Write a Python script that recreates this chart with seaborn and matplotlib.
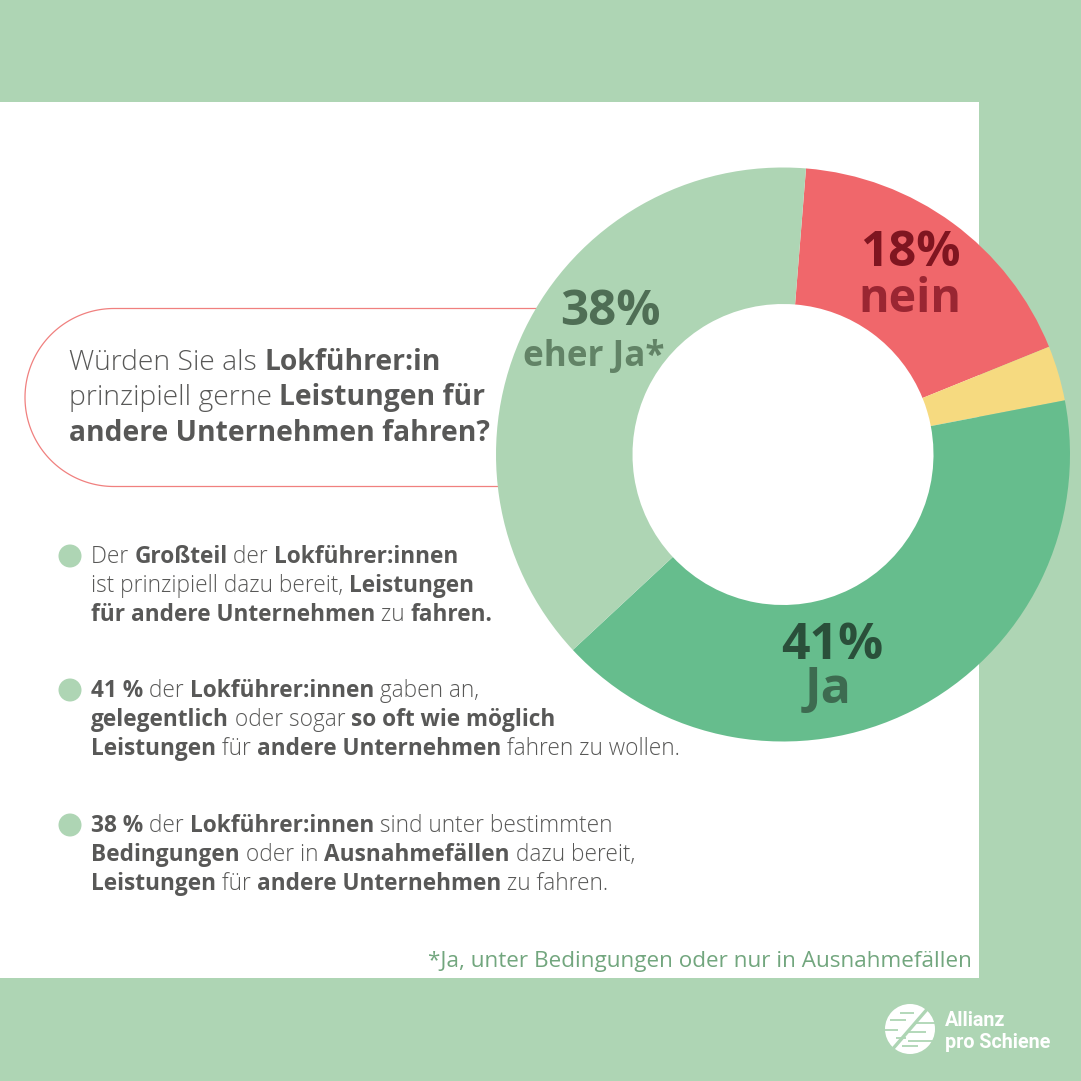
import numpy as np
import matplotlib
matplotlib.use("Agg")
import matplotlib.pyplot as plt
import seaborn as sns
from matplotlib.patches import Circle, Rectangle

# =========================
# Data
# =========================
categories = ["nein", "eher nein", "Ja", "eher Ja*"]
shares = [17.6, 3.1, 41.1, 38.2]

question_lines = [
    [("Würden Sie als ", False), ("Lokführer:in", True)],
    [("prinzipiell gerne ", False), ("Leistungen für", True)],
    [("andere Unternehmen fahren?", True)],
]
bullet_1 = [
    [("Der ", False), ("Großteil", True), (" der ", False), ("Lokführer:innen", True)],
    [("ist prinzipiell dazu bereit, ", False), ("Leistungen", True)],
    [("für andere Unternehmen", True), (" zu ", False), ("fahren.", True)],
]
bullet_2 = [
    [("41 %", True), (" der ", False), ("Lokführer:innen", True), (" gaben an,", False)],
    [("gelegentlich", True), (" oder sogar ", False), ("so oft wie möglich", True)],
    [("Leistungen", True), (" für ", False), ("andere Unternehmen", True), (" fahren zu wollen.", False)],
]
bullet_3 = [
    [("38 %", True), (" der ", False), ("Lokführer:innen", True), (" sind unter bestimmten", False)],
    [("Bedingungen", True), (" oder in ", False), ("Ausnahmefällen", True), (" dazu bereit,", False)],
    [("Leistungen", True), (" für ", False), ("andere Unternehmen", True), (" zu fahren.", False)],
]
footnote = "*Ja, unter Bedingungen oder nur in Ausnahmefällen"

# =========================
# Style
# =========================
sns.set_theme(style="white")
plt.rcParams["font.family"] = ["Open Sans", "DejaVu Sans"]

GREEN = "#AED5B4"
RED = "#F0676B"
TEXT = "#585857"
palette = sns.color_palette([RED, "#F6DA80", "#66BD8D", GREEN])

W = 1081
fig = plt.figure(figsize=(W / 100, W / 100), dpi=100, facecolor="white")

ax = fig.add_axes([0, 0, 1, 1], zorder=0)
ax.set_xlim(0, W)
ax.set_ylim(W, 0)
ax.axis("off")

top = fig.add_axes([0, 0, 1, 1], zorder=2)
top.set_xlim(0, W)
top.set_ylim(W, 0)
top.axis("off")

# =========================
# Background frame
# =========================
ax.add_patch(Rectangle((0, 0), W, 101.5, color=GREEN, lw=0))
ax.add_patch(Rectangle((979, 0), W - 979, W, color=GREEN, lw=0))
ax.add_patch(Rectangle((0, 978), W, W - 978, color=GREEN, lw=0))

# question pill (runs under the donut)
theta = np.linspace(np.pi / 2, 3 * np.pi / 2, 120)
pill_x = np.r_[560, 114 + 89 * np.cos(theta), 560]
pill_y = np.r_[308.5, 397.5 - 89 * np.sin(theta), 486.5]
ax.plot(pill_x, pill_y, color="#F0807F", lw=0.9)

# =========================
# Donut
# =========================
cx, cy, r_out, r_in = 783, 454.5, 287, 150.5
ax_pie = fig.add_axes([(cx - r_out) / W, 1 - (cy + r_out) / W, 2 * r_out / W, 2 * r_out / W], zorder=1)
ax_pie.patch.set_alpha(0)
ax_pie.pie(shares, colors=palette, startangle=85.4, counterclock=False, radius=1,
           wedgeprops=dict(width=(r_out - r_in) / r_out, linewidth=0))
ax_pie.set_xlim(-1, 1)
ax_pie.set_ylim(-1, 1)


# =========================
# Mixed weight text helper
# =========================
def advance(s, size, bold, rend):
    # width of the string between two markers, so spaces count
    weight = "bold" if bold else "light"
    t = top.text(0, 0, "|" + s.replace(" ", "\u00a0") + "|", fontsize=size, fontweight=weight)
    b = top.text(0, 0, "||", fontsize=size, fontweight=weight)
    w = t.get_window_extent(rend).width - b.get_window_extent(rend).width
    t.remove()
    b.remove()
    return w


def draw_line(x, y, segments, size):
    rend = fig.canvas.get_renderer()
    for s, bold in segments:
        top.text(x, y, s.replace(" ", "\u00a0"), fontsize=size, color=TEXT, va="baseline", ha="left",
                 fontweight="bold" if bold else "light")
        x += advance(s, size, bold, rend)


for i, line in enumerate(question_lines):
    draw_line(69, 370 + i * 35.5, line, 20.3)

for bullet, y0 in zip([bullet_1, bullet_2, bullet_3], [563, 697, 832]):
    top.add_patch(Circle((70, y0 - 7), 11.5, color=GREEN, lw=0))
    for i, line in enumerate(bullet):
        draw_line(91, y0 + i * 29, line, 16.3)

top.text(972, 967, footnote, ha="right", va="baseline", fontsize=16.2, color="#72A67E")


# =========================
# Donut labels
# =========================
def label(x, y, s, col, size):
    top.text(x, y, s, ha="center", va="baseline", color=col, fontsize=size, fontweight="bold")


label(910, 266, "18%", "#7F1520", 35.5)
label(910, 312, "nein", "#9A2632", 33.6)
label(610, 325, "38%", "#4F6E55", 35.5)
label(594, 366, "eher Ja*", "#628366", 25.2)
label(832, 659, "41%", "#2A4F3A", 36)
label(828, 703, "Ja", "#3D6B50", 36)

# =========================
# Logo
# =========================
lx, ly = 910, 1029
top.add_patch(Circle((lx, ly), 25, color="white", lw=0))
top.plot([lx + 19, lx - 19], [ly - 22, ly + 22], color=GREEN, lw=2.4, solid_capstyle="butt")
for x0, x1, y in [(-20, -4, -9), (-10, 4, -16), (-26, -12, 1), (-14, -4, 9),
                  (6, 26, -6), (-2, 16, 3), (-2, 26, 12), (-8, 8, 17)]:
    top.plot([lx + x0, lx + x1], [ly + y, ly + y], color=GREEN, lw=1.3, solid_capstyle="butt")
top.text(945, 1026, "Allianz", color="white", fontsize=14.2, fontweight="bold", family="Roboto", va="baseline")
top.text(945, 1048, "pro Schiene", color="white", fontsize=14.2, fontweight="bold", family="Roboto", va="baseline")

fig.savefig("out.png", dpi=100)
